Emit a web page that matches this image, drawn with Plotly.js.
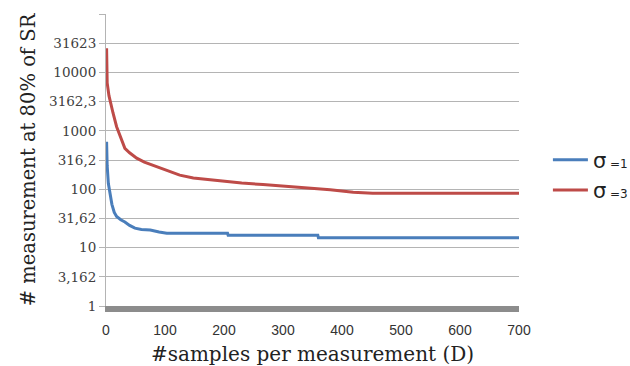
<!DOCTYPE html>
<html>
<head>
<meta charset="utf-8">
<script src="https://cdn.plot.ly/plotly-3.0.1.min.js"></script>
<style>html,body{margin:0;padding:0;background:#fff;}</style>
</head>
<body>
<div id="chart" style="width:630px;height:366px;"></div>
<script>
// Series sigma = 1
const dSigma1 = [1, 2, 4, 7, 10, 14, 18, 25, 32, 40, 49, 60, 75, 90, 103, 206, 207, 359, 360, 700];
const vSigma1 = [650, 250, 125, 80, 55, 40, 34, 30, 27.5, 24, 21.5, 20.5, 20, 18.5, 17.6, 17.6, 16.3, 16.3, 14.8, 14.8];
// Series sigma = 3
const dSigma3 = [1, 2, 5, 8, 12, 18, 25, 32, 40, 52, 65, 80, 95, 108, 125, 148, 175, 199, 230, 266, 306, 346, 380, 419, 452, 700];
const vSigma3 = [26000, 6600, 4000, 2800, 2000, 1175, 750, 500, 420, 340, 290, 257, 225, 200, 174, 155, 145, 135, 128, 120, 112, 102, 98, 89, 85, 85];
// Axis ticks
const yTickVals = [1, 3.162, 10, 31.62, 100, 316.2, 1000, 3162.3, 10000, 31623, 100000];
const yTickText = ["1", "3,162", "10", "31,62", "100", "316,2", "1000", "3162,3", "10000", "31623", ""];
const xTickVals = [0, 100, 200, 300, 400, 500, 600, 700];
const seriesNames = ['σ<span style="font-size:12px"> =1</span>', 'σ<span style="font-size:12px"> =3</span>'];

const traces = [
  {x: dSigma1, y: vSigma1, name: seriesNames[0], legendgroup: 'g1', type: 'scatter', mode: 'lines',
   line: {color: '#4a7ebb', width: 3}},
  {x: dSigma3, y: vSigma3, name: seriesNames[1], legendgroup: 'g3', type: 'scatter', mode: 'lines',
   line: {color: '#be4b48', width: 3}}
];

const layout = {
  width: 630, height: 366,
  margin: {l: 106, r: 111, t: 14, b: 60, autoexpand: false},
  paper_bgcolor: '#fff', plot_bgcolor: '#fff',
  showlegend: true,
  legend: {x: 1.07, y: 0.57, xanchor: 'left', yanchor: 'top',
           font: {family: 'DejaVu Sans, sans-serif', size: 21, color: '#222'},
           itemwidth: 35, tracegroupgap: 0, bgcolor: 'rgba(0,0,0,0)'},
  xaxis: {
    range: [0, 700], tickvals: xTickVals, ticktext: xTickVals.map(String),
    showgrid: false, zeroline: false,
    showline: true, linecolor: '#8c8c8c', linewidth: 6,
    ticks: '', ticklabelstandoff: 6,
    tickfont: {family: 'Liberation Sans, Arial, sans-serif', size: 14, color: '#333'},
    title: {text: '#samples per measurement (D)', standoff: 13,
            font: {family: 'DejaVu Serif, serif', size: 20, color: '#222'}}
  },
  yaxis: {
    type: 'log', range: [0, 5], tickvals: yTickVals, ticktext: yTickText,
    showgrid: true, gridcolor: '#b4b4b4', gridwidth: 1, zeroline: false,
    showline: true, linecolor: '#b4b4b4', linewidth: 1,
    ticks: 'outside', ticklen: 6, tickcolor: '#b4b4b4',
    tickfont: {family: 'DejaVu Serif, serif', size: 13.5, color: '#404040'},
    title: {text: '# measurement at 80% of SR', standoff: 8,
            font: {family: 'DejaVu Serif, serif', size: 19.5, color: '#222'}}
  }
};

Plotly.newPlot('chart', traces, layout, {displayModeBar: false, staticPlot: true});
</script>
</body>
</html>
